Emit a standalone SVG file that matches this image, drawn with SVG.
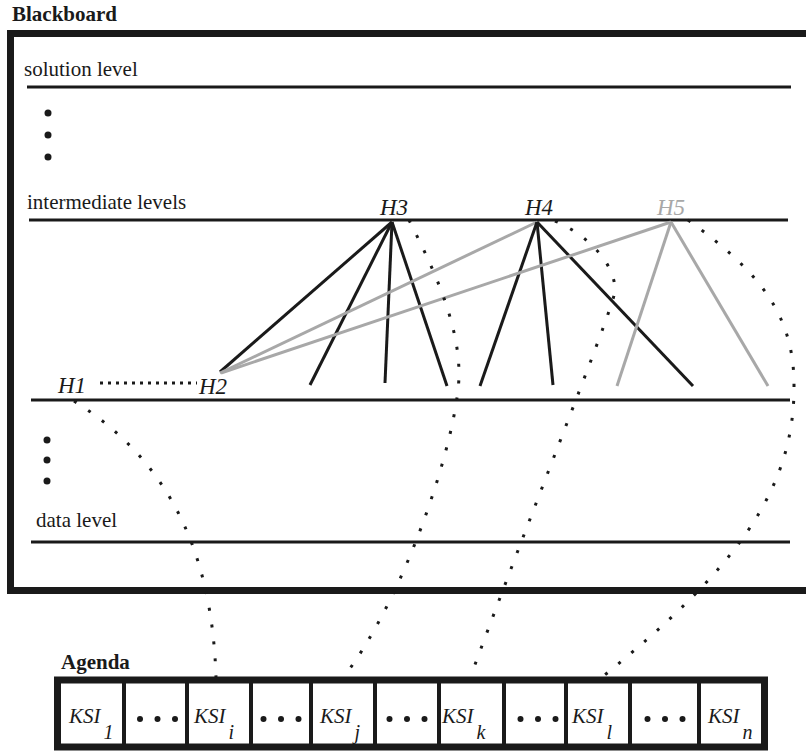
<svg xmlns="http://www.w3.org/2000/svg" width="806" height="751" viewBox="0 0 806 751">
  <style>
    text { font-family: "Liberation Serif", "Times New Roman", Times, Tinos, "Nimbus Roman", "Noto Serif", FreeSerif, "DejaVu Serif", serif; fill: #1a1a1a; }
    .title { font-size: 21px; font-weight: bold; }
    .lvl { font-size: 21px; }
    .hyp { font-size: 23px; font-style: italic; }
    .ksi { font-size: 21px; font-style: italic; }
    .frame { fill: none; stroke: #1a1a1a; stroke-width: 7; }
    .level { stroke: #1a1a1a; stroke-width: 3; }
    .divider { stroke: #1a1a1a; stroke-width: 4; }
    .link { stroke: #1a1a1a; stroke-width: 3; fill: none; }
    .link-gray { stroke: #a8a8a8; stroke-width: 3; fill: none; }
    .dots { stroke: #1a1a1a; stroke-width: 3; fill: none; stroke-dasharray: 3 14; }
    .dots-dense { stroke: #1a1a1a; stroke-width: 3; fill: none; stroke-dasharray: 3 5; }
    .bullet { fill: #1a1a1a; }
  </style>

  <!-- Blackboard frame and its levels -->
  <g id="blackboard">
    <text class="title" x="12" y="21">Blackboard</text>
    <path class="frame" d="M 830 33.5 H 10.5 V 590.5 H 830"/>
  </g>

  <g id="solution-level">
    <text class="lvl" x="24" y="76">solution level</text>
    <line class="level" x1="27" y1="87" x2="791" y2="87"/>
    <circle class="bullet" cx="48" cy="113" r="3.5"/>
    <circle class="bullet" cx="48" cy="135" r="3.5"/>
    <circle class="bullet" cx="48" cy="157" r="3.5"/>
  </g>

  <g id="intermediate-levels">
    <text class="lvl" x="27" y="209">intermediate levels</text>
    <line class="level" x1="29" y1="220" x2="788" y2="220"/>
  </g>

  <g id="lower-level">
    <line class="level" x1="31" y1="400" x2="790" y2="400"/>
    <circle class="bullet" cx="47" cy="440" r="3.5"/>
    <circle class="bullet" cx="47" cy="460" r="3.5"/>
    <circle class="bullet" cx="47" cy="481" r="3.5"/>
  </g>

  <g id="data-level">
    <text class="lvl" x="36" y="527">data level</text>
    <line class="level" x1="31" y1="542" x2="790" y2="542"/>
  </g>

  <!-- Connectors: hypothesis support links and KSI triggers -->
  <g id="connectors">
    <!-- H3 -->
    <line class="link" x1="392" y1="222" x2="220" y2="372"/>
    <line class="link" x1="392" y1="222" x2="310" y2="385"/>
    <line class="link" x1="392" y1="222" x2="385" y2="383"/>
    <line class="link" x1="392" y1="222" x2="447" y2="386"/>
    <!-- H4 -->
    <line class="link-gray" x1="537" y1="222" x2="220" y2="373"/>
    <line class="link" x1="537" y1="222" x2="480" y2="386"/>
    <line class="link" x1="537" y1="222" x2="553" y2="385"/>
    <line class="link" x1="537" y1="222" x2="693" y2="386"/>
    <!-- H5 -->
    <line class="link-gray" x1="671" y1="222" x2="221" y2="373"/>
    <line class="link-gray" x1="671" y1="222" x2="617" y2="386"/>
    <line class="link-gray" x1="671" y1="222" x2="768" y2="386"/>

    <!-- H1 .... H2 -->
    <line class="dots-dense" x1="100" y1="383" x2="197" y2="383"/>

    <!-- hypotheses to agenda entries -->
    <path class="dots" d="M 74 401 C 160 455 212 540 216 678"/>
    <path class="dots" d="M 409 220 C 430 262 459 320 459 374 C 459 430 410 590 343 678"/>
    <path class="dots" d="M 555 221 C 590 236 615 265 615 290 C 615 305 544 478 470 678"/>
    <path class="dots" d="M 688 220 C 760 272 794 315 794 385 C 795 490 735 570 601 678"/>
  </g>

  <!-- Hypotheses -->
  <g id="H1"><text class="hyp" x="58" y="393">H1</text></g>
  <g id="H2"><text class="hyp" x="199" y="394">H2</text></g>
  <g id="H3"><text class="hyp" x="380" y="215">H3</text></g>
  <g id="H4"><text class="hyp" x="525" y="215">H4</text></g>
  <g id="H5"><text class="hyp" x="657" y="215" style="fill:#a8a8a8">H5</text></g>

  <!-- Agenda -->
  <g id="agenda">
    <text class="title" x="61" y="669">Agenda</text>
    <rect class="frame" x="57.5" y="680" width="707" height="67"/>
    <line class="divider" x1="124" y1="683" x2="124" y2="744"/>
    <line class="divider" x1="187" y1="683" x2="187" y2="744"/>
    <line class="divider" x1="251" y1="683" x2="251" y2="744"/>
    <line class="divider" x1="311" y1="683" x2="311" y2="744"/>
    <line class="divider" x1="375" y1="683" x2="375" y2="744"/>
    <line class="divider" x1="439" y1="683" x2="439" y2="744"/>
    <line class="divider" x1="504" y1="683" x2="504" y2="744"/>
    <line class="divider" x1="566" y1="683" x2="566" y2="744"/>
    <line class="divider" x1="630" y1="683" x2="630" y2="744"/>
    <line class="divider" x1="699" y1="683" x2="699" y2="744"/>
  </g>

  <g id="ksi-1"><text class="ksi" x="69" y="723">KSI<tspan dx="3" dy="16" font-size="20">1</tspan></text></g>
  <g id="gap-1">
    <circle class="bullet" cx="140" cy="719" r="3"/><circle class="bullet" cx="157.5" cy="719" r="3"/><circle class="bullet" cx="175" cy="719" r="3"/>
  </g>
  <g id="ksi-i"><text class="ksi" x="194" y="723">KSI<tspan dx="3" dy="16" font-size="20">i</tspan></text></g>
  <g id="gap-2">
    <circle class="bullet" cx="263.5" cy="719" r="3"/><circle class="bullet" cx="281" cy="719" r="3"/><circle class="bullet" cx="298.5" cy="719" r="3"/>
  </g>
  <g id="ksi-j"><text class="ksi" x="320" y="723">KSI<tspan dx="3" dy="16" font-size="20">j</tspan></text></g>
  <g id="gap-3">
    <circle class="bullet" cx="389.5" cy="719" r="3"/><circle class="bullet" cx="407" cy="719" r="3"/><circle class="bullet" cx="424.5" cy="719" r="3"/>
  </g>
  <g id="ksi-k"><text class="ksi" x="442" y="723">KSI<tspan dx="3" dy="16" font-size="20">k</tspan></text></g>
  <g id="gap-4">
    <circle class="bullet" cx="520.5" cy="719" r="3"/><circle class="bullet" cx="538" cy="719" r="3"/><circle class="bullet" cx="555.5" cy="719" r="3"/>
  </g>
  <g id="ksi-l"><text class="ksi" x="572" y="723">KSI<tspan dx="3" dy="16" font-size="20">l</tspan></text></g>
  <g id="gap-5">
    <circle class="bullet" cx="647.5" cy="719" r="3"/><circle class="bullet" cx="665" cy="719" r="3"/><circle class="bullet" cx="682.5" cy="719" r="3"/>
  </g>
  <g id="ksi-n"><text class="ksi" x="708" y="723">KSI<tspan dx="3" dy="16" font-size="20">n</tspan></text></g>
</svg>
